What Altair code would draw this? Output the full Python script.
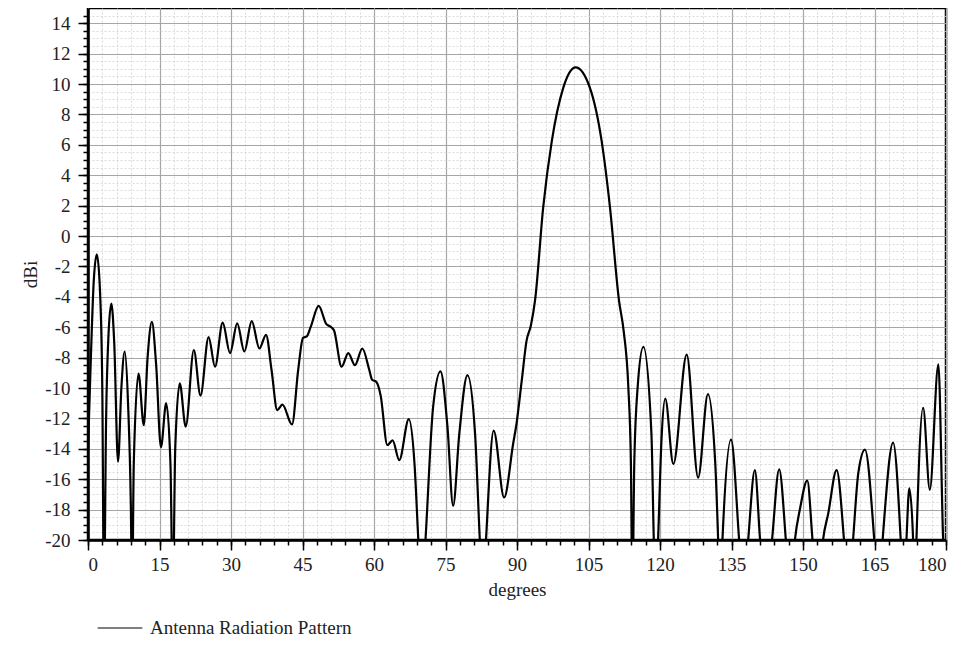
import altair as alt
import pandas as pd

# Angle (degrees) and gain (dBi)
angle = [
    0.0, 0.6, 1.2, 1.85, 2.5, 3.0, 3.35, 3.8, 4.3, 4.9, 5.5, 6.3, 7.0, 7.7, 8.4, 9.0, 9.25, 9.6,
    10.6, 11.7, 12.5, 13.4, 14.3, 15.3, 16.4, 17.3, 17.8, 18.3, 19.25, 20.5, 22.2, 23.6, 25.3,
    26.65, 28.25, 29.8, 31.3, 32.8, 34.35, 35.95, 37.35, 38.5, 39.7, 40.8, 42.8, 44.1, 45.1,
    45.9, 46.7, 48.4, 50.0, 50.8, 51.6, 53.2, 54.6, 56.0, 57.55, 59.0, 59.6, 60.5, 61.4, 62.8,
    63.9, 65.3, 67.3, 68.5, 69.3, 70.0, 70.8, 72.4, 73.95, 75.4, 76.6, 77.9, 79.6, 81.2, 82.2,
    82.85, 83.5, 85.1, 87.3, 89.2, 89.9, 91.0, 92.0, 92.9, 93.8, 95.5, 97.3, 99.7,
    102.3, 105.3, 107.76, 109.5, 111.4, 112.4, 113.35, 113.9,
    114.2, 114.6, 115.3, 116.5, 118.2, 118.7, 119.1, 119.6, 120.3, 121.1, 122.8, 125.6, 128.0,
    130.05, 131.6, 132.2, 132.6, 133.1, 134.9, 136.6, 137.5, 138.5, 139.9, 141.0, 142.2, 143.5,
    145.0, 146.4, 147.3, 148.3, 149.4, 150.9, 152.0, 153.1, 154.2, 155.3, 157.05, 158.6, 159.5,
    160.5, 161.6, 163.0, 164.95, 165.8, 166.7, 168.9, 170.5, 171.1, 171.7, 172.3, 173.1, 173.45,
    173.8, 175.2, 176.6, 178.4, 179.4, 180.0,
]
gain = [
    -14.0, -8.0, -3.0, -1.2, -3.5, -10.0, -24.0, -12.0, -6.5, -4.45, -7.0, -14.85, -10.0, -7.6,
    -11.0, -18.0, -24.0, -15.0, -9.05, -12.45, -8.0, -5.65, -8.5, -13.9, -11.0, -15.0, -24.0,
    -14.0, -9.7, -12.55, -7.5, -10.5, -6.65, -8.6, -5.7, -7.7, -5.75, -7.6, -5.6, -7.4, -6.5,
    -8.8, -11.45, -11.1, -12.4, -8.8, -6.7, -6.6, -6.0, -4.6, -5.8, -5.95, -6.2, -8.6, -7.7,
    -8.5, -7.4, -8.8, -9.45, -9.6, -10.5, -13.75, -13.45, -14.75, -12.05, -15.0, -20.0, -24.0,
    -20.0, -11.25, -8.9, -12.5, -17.75, -13.0, -9.15, -13.0, -20.0, -24.0, -20.0, -12.8, -17.2,
    -13.65, -12.35, -9.5, -6.9, -5.9, -4.2, 1.9, 6.24, 9.75,
    11.1, 9.75, 6.24, 1.9, -4.25, -6.3, -9.9, -15.0,
    -24.0, -15.0, -10.0, -7.3, -13.0,
    -20.0, -24.0, -20.0, -13.5, -10.7, -15.0, -7.8, -15.9, -10.4, -15.0, -20.0, -24.0, -20.0,
    -13.4, -20.0, -24.0, -20.0, -15.4, -20.0, -24.0, -20.0, -15.35, -20.0, -24.0, -20.0, -17.9,
    -16.1, -20.0, -24.0, -20.0, -18.25, -15.4, -20.0, -24.0, -20.0, -15.6, -14.05, -20.0, -24.0,
    -20.0, -13.6, -20.0, -24.0, -20.0, -16.6, -20.0, -24.0, -20.0, -11.3, -16.7, -8.45, -20.0,
    -24.0,
]
series_name = "Antenna Radiation Pattern"

x_major = list(range(0, 181, 15))
x_minor = list(range(0, 181, 3))
y_major = list(range(-20, 15, 2))
y_minor = [v / 2 for v in range(-40, 30)]

df = pd.DataFrame({"angle": angle, "gain": gain, "series": series_name})

FONT = "Liberation Serif"
FS = 19
TXT = "#222222"
xscale = alt.Scale(domain=[0, 180], nice=False, zero=False)
yscale = alt.Scale(domain=[-20, 15], nice=False, zero=False)
label_expr = "datum.value < 0 ? '-' + abs(datum.value) : '' + datum.value"

minor = alt.Chart(df).mark_line(opacity=0).encode(
    x=alt.X("angle:Q", scale=xscale, axis=alt.Axis(
        values=x_minor, orient="bottom", grid=True, gridDash=[2, 2], gridColor="#d2d2d2",
        gridWidth=0.8, tickSize=5, tickColor="black", tickWidth=1.5, labels=False,
        domain=False, title=None)),
    y=alt.Y("gain:Q", scale=yscale, axis=alt.Axis(
        values=y_minor, orient="left", grid=True, gridDash=[2, 2], gridColor="#d2d2d2",
        gridWidth=0.8, tickSize=5, tickColor="black", tickWidth=1.5, labels=False,
        domain=False, title=None)),
)

main = alt.Chart(df).mark_line(
    interpolate="monotone", strokeWidth=2.2, clip=True
).encode(
    x=alt.X("angle:Q", scale=xscale, axis=alt.Axis(
        values=x_major, orient="bottom", grid=True, gridColor="#a6a6a6", gridWidth=1.2,
        tickSize=10, tickColor="black", tickWidth=1.5, domain=True, domainColor="black",
        domainWidth=2.5, labelFont=FONT, labelFontSize=FS, labelColor=TXT,
        title="degrees", titleFont=FONT, titleFontSize=FS,
        titleFontWeight="normal", titleColor=TXT, titlePadding=6)),
    y=alt.Y("gain:Q", scale=yscale, axis=alt.Axis(
        values=y_major, orient="left", grid=True, gridColor="#a6a6a6", gridWidth=1.2,
        tickSize=10, tickColor="black", tickWidth=1.5, domain=True, domainColor="black",
        domainWidth=2.5, labelFont=FONT, labelFontSize=FS, labelColor=TXT,
        labelExpr=label_expr, title="dBi", titleFont=FONT,
        titleFontSize=FS, titleFontWeight="normal", titleColor=TXT, titlePadding=4)),
    color=alt.Color("series:N", scale=alt.Scale(range=["black"]), legend=alt.Legend(
        title=None, orient="none", legendX=9, legendY=597, symbolType="stroke",
        symbolSize=2000, symbolStrokeWidth=1.2, labelFont=FONT, labelFontSize=FS,
        labelColor=TXT, labelOffset=7, labelLimit=400)),
)

chart = alt.layer(minor, main).resolve_axis(x="independent", y="independent").properties(
    width=858, height=532,
    autosize=alt.AutoSizeParams(type="none"),
    padding={"left": 80, "top": 0, "right": 5, "bottom": 100},
    background="white",
).configure_view(
    stroke="black", strokeWidth=2.5
).configure_axisLeft(labelPadding=8).configure_axisBottom(labelPadding=5)

chart.save("out.html", embed_options={"renderer": "svg", "actions": False})
